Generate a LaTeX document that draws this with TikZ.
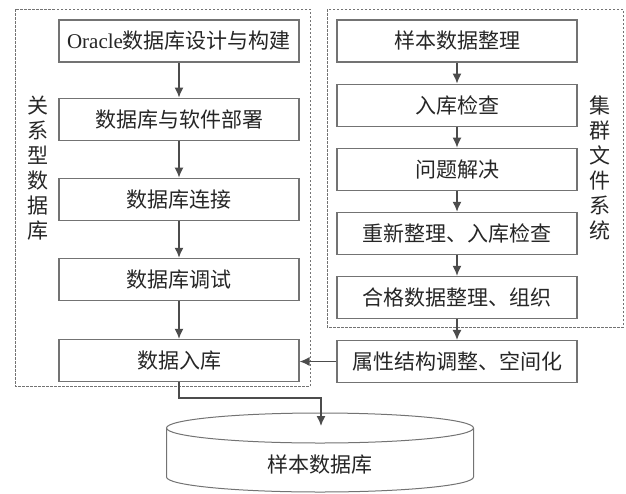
\documentclass[tikz,border=0pt]{standalone}
\usepackage{fontspec}
\setmainfont{Liberation Serif}
\newfontfamily\cjk{Noto Sans CJK SC}
\usetikzlibrary{positioning,arrows.meta}

\begin{document}
\begin{tikzpicture}[x=1pt,y=-1pt,
    box/.style={draw=black!55,line width=1.1pt,rectangle,minimum width=240pt,minimum height=42pt,
      text=black!85,font=\fontsize{21}{24}\selectfont\cjk},
    group/.style={draw=black!55,line width=0.7pt,dash pattern=on 2.5pt off 1.5pt},
    side/.style={align=center,text=black!85,font=\fontsize{21}{25}\selectfont\cjk},
    flow/.style={draw=black!70,line width=1.4pt,-{Latex[length=10pt,width=9pt]}}]
    \useasboundingbox (0,0) rectangle (626,493);
    % relational database side
    \node [box] (db_1) at (179,41) {{\rmfamily Oracle}数据库设计与构建};
    \node [box, below=35pt of db_1] (db_2) {数据库与软件部署};
    \node [box, below=37pt of db_2] (db_3) {数据库连接};
    \node [box, below=37pt of db_3] (db_4) {数据库调试};
    \node [box, below=38pt of db_4] (db_5) {数据入库};
    % cluster file system side
    \node [box] (fs_1) at (457,41) {样本数据整理};
    \node [box, below=21pt of fs_1] (fs_2) {入库检查};
    \node [box, below=21pt of fs_2] (fs_3) {问题解决};
    \node [box, below=21pt of fs_3] (fs_4) {重新整理、入库检查};
    \node [box, below=21pt of fs_4] (fs_5) {合格数据整理、组织};
    \node [box, below=21pt of fs_5] (fs_6) {属性结构调整、空间化};
    % groups
    \draw [group] (15,9) rectangle (310,386);
    \draw [group] (327,9) rectangle (623,327);
    \node [side] (rel_label) at (38,168) {关\\系\\型\\数\\据\\库};
    \node [side] (fs_label) at (600,168) {集\\群\\文\\件\\系\\统};
    % sample database
    \draw [draw=black!55,line width=1pt,fill=white] (166.5,428) -- (166.5,477)
      arc [start angle=180,end angle=360,x radius=153.5pt,y radius=15pt] -- (473.5,428);
    \draw [draw=black!55,line width=1pt] (320,428) ellipse [x radius=153.5pt,y radius=15pt];
    \node [text=black!85,font=\fontsize{21}{24}\selectfont\cjk] (db) at (320,465) {样本数据库};
    \coordinate (db_top) at (321,426);
    % flows
    \foreach \a/\b in {db_1/db_2,db_2/db_3,db_3/db_4,db_4/db_5,fs_1/fs_2,fs_2/fs_3,fs_3/fs_4,fs_4/fs_5,fs_5/fs_6}
      \draw [flow] (\a) -- (\b);
    \draw [flow] (fs_6.west) -- (fs_6.west -| db_5.east);
    \draw [flow] (db_5.south) -- ++(0,16) -| (db_top);
\end{tikzpicture}
\end{document}
